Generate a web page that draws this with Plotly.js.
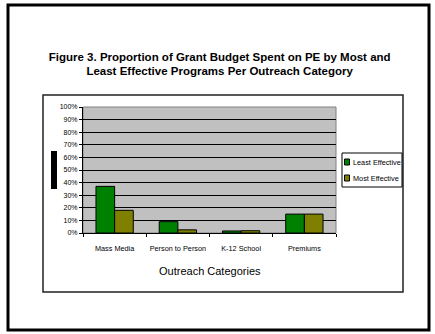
<!DOCTYPE html>
<html><head><meta charset="utf-8">
<script src="https://cdn.plot.ly/plotly-3.0.1.min.js"></script>
<style>body{margin:0;background:#fff}#c{width:435px;height:334px}</style>
</head><body><div id="c"></div>
<script>
const categories = ["Mass Media", "Person to Person", "K-12 School", "Premiums"];
const leastEffective = [0.37, 0.09, 0.016, 0.15];
const mostEffective = [0.18, 0.025, 0.018, 0.15];
const seriesNames = ["Least Effective", "Most Effective"];
const yTicks = [0,0.1,0.2,0.3,0.4,0.5,0.6,0.7,0.8,0.9,1.0];
const yTickLabels = ["0%","10%","20%","30%","40%","50%","60%","70%","80%","90%","100%"];

const W=435,H=334, L=83, R=336, T=107, B=233;
const px = x => (x-L)/(R-L);
const py = y => (B-y)/(B-T);
const sans = "'Liberation Sans', Arial, sans-serif";

const traces = [
  {type:'bar', x:categories, y:leastEffective, name:seriesNames[0],
   marker:{color:'#008000', line:{color:'#000', width:1}}},
  {type:'bar', x:categories, y:mostEffective, name:seriesNames[1],
   marker:{color:'#808000', line:{color:'#000', width:1}}}
];

const rect = (x0,y0,x1,y1,line,fill,layer) => ({type:'rect', xref:'paper', yref:'paper',
  x0:px(x0), x1:px(x1), y0:py(y1), y1:py(y0), line:line, fillcolor:fill||'rgba(0,0,0,0)', layer:layer||'above'});

const shapes = [
  rect(8,5,429,330,{color:'#000',width:3}),
  rect(43,95,403,292,{color:'#222',width:1.5}),
  rect(83,107,336,233,{color:'#808080',width:1},null,'below'),
  rect(51,151,57,189,{width:0},'#000'),
  rect(342,153,402,187,{color:'#000',width:1},'#fff'),
  rect(344.5,159,349.5,165,{color:'#000',width:1},'#008000'),
  rect(344.5,175,349.5,181,{color:'#000',width:1},'#808000')
];

const annotations = [
  {xref:'paper',yref:'paper',x:px(350.5),y:py(162),xanchor:'left',yanchor:'middle',showarrow:false,
   text:seriesNames[0],font:{family:sans,size:7.3,color:'#000'}},
  {xref:'paper',yref:'paper',x:px(350.5),y:py(178),xanchor:'left',yanchor:'middle',showarrow:false,
   text:seriesNames[1],font:{family:sans,size:7.3,color:'#000'}},
  {xref:'paper',yref:'paper',x:px(210),y:py(271),xanchor:'center',yanchor:'middle',showarrow:false,
   text:'Outreach Categories',font:{family:sans,size:11,color:'#000'}}
];

const layout = {
  width:W, height:H, margin:{l:L, r:W-R, t:T, b:H-B},
  paper_bgcolor:'#fff', plot_bgcolor:'#c0c0c0',
  showlegend:false, barmode:'group', bargap:0.41, bargroupgap:0,
  title:{text:"Figure 3. Proportion of Grant Budget Spent on PE by Most and<br>Least Effective Programs Per Outreach Category",
    font:{family:sans, size:11.5, color:'#000', weight:'bold'},
    xref:'container', x:0.505, xanchor:'center', yref:'container', y:1-60.5/H, yanchor:'middle'},
  xaxis:{type:'category', showline:true, linecolor:'#000', linewidth:1, ticks:'outside', tickson:'boundaries',
    ticklen:3, tickcolor:'#000', showgrid:false, zeroline:false, tickangle:0, ticklabelstandoff:8,
    tickfont:{family:sans, size:7.3, color:'#000'}},
  yaxis:{range:[0,1], tickvals:yTicks, ticktext:yTickLabels, showline:true, linecolor:'#000', linewidth:1,
    ticks:'outside', ticklen:3, tickcolor:'#000', showgrid:true, gridcolor:'#000', gridwidth:1, zeroline:false,
    tickfont:{family:sans, size:7, color:'#000'}, fixedrange:true},
  shapes:shapes, annotations:annotations
};
Plotly.newPlot('c', traces, layout, {staticPlot:true, displayModeBar:false});
</script></body></html>
